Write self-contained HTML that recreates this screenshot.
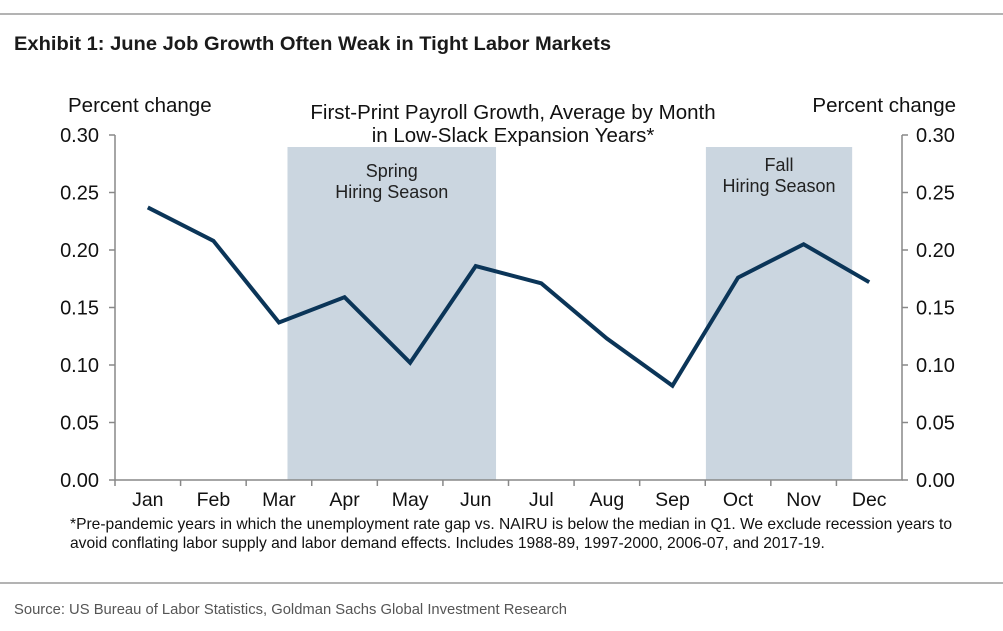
<!DOCTYPE html>
<html><head><meta charset="utf-8"><style>
body{margin:0;background:#fff;width:1003px;height:626px;overflow:hidden;font-family:"Liberation Sans",sans-serif}
</style></head><body>
<svg width="1003" height="626" font-family="Liberation Sans, sans-serif">
<line x1="0" y1="14" x2="1003" y2="14" stroke="#9a9a9a" stroke-width="1.5"/>
<text x="14" y="50" font-size="19" font-weight="bold" fill="#1a1a1a" textLength="597" lengthAdjust="spacingAndGlyphs">Exhibit 1: June Job Growth Often Weak in Tight Labor Markets</text>
<g id="plot"></g>
<text x="68" y="112" font-size="20.5" fill="#111">Percent change</text>
<text x="956" y="112" font-size="20.5" fill="#111" text-anchor="end">Percent change</text>
<text x="513" y="119" font-size="20.5" fill="#111" text-anchor="middle">First-Print Payroll Growth, Average by Month</text>
<text x="513" y="142" font-size="20.5" fill="#111" text-anchor="middle">in Low-Slack Expansion Years*</text>
<text x="70" y="529" font-size="15.6" fill="#111">*Pre-pandemic years in which the unemployment rate gap vs. NAIRU is below the median in Q1. We exclude recession years to</text>
<text x="70" y="548" font-size="15.6" fill="#111">avoid conflating labor supply and labor demand effects. Includes 1988-89, 1997-2000, 2006-07, and 2017-19.</text>
<line x1="0" y1="583" x2="1003" y2="583" stroke="#9a9a9a" stroke-width="1.5"/>
<text x="14" y="614" font-size="15" fill="#555" textLength="553" lengthAdjust="spacingAndGlyphs">Source: US Bureau of Labor Statistics, Goldman Sachs Global Investment Research</text>
</svg>
<script>
const months=["Jan","Feb","Mar","Apr","May","Jun","Jul","Aug","Sep","Oct","Nov","Dec"];
const values=[0.237,0.208,0.137,0.159,0.102,0.186,0.171,0.123,0.082,0.176,0.205,0.172];
const yTicks=["0.00","0.05","0.10","0.15","0.20","0.25","0.30"];
const yTickValues=[0,0.05,0.1,0.15,0.2,0.25,0.3];
const shadeStartIdx=[2.63,9.01];
const shadeEndIdx=[5.81,11.24];
const shadeLabels=[["Spring","Hiring Season"],["Fall","Hiring Season"]];
const L=115,R=902,T=135,B=480;
const step=(R-L)/months.length;
const x=i=>L+step*(i+0.5);
const xe=i=>L+step*i;
const y=v=>B-(v/0.3)*(B-T);
const g=document.getElementById('plot');
const NS="http://www.w3.org/2000/svg";
function mk(t,a){const e=document.createElementNS(NS,t);for(const k in a)e.setAttribute(k,a[k]);g.appendChild(e);return e;}
shadeStartIdx.forEach((s,i)=>{
  const r=mk('rect',{x:xe(s),y:147,width:xe(shadeEndIdx[i])-xe(s),height:B-147,fill:'#cbd6e0'});
  
  
  const cx=(xe(s)+xe(shadeEndIdx[i]))/2;
  shadeLabels[i].forEach((l,j)=>{
    const t=mk('text',{x:cx,y:(i?171:177)+j*21,'font-size':18,'text-anchor':'middle',fill:'#222'});
    t.textContent=l;
    
    
  });
});
const ax=mk('path',{d:`M${L} ${T}V${B}H${R}V${T}`,fill:'none',stroke:'#888','stroke-width':1.5});


yTickValues.forEach((v,i)=>{
  mk('line',{x1:L-6,x2:L,y1:y(v),y2:y(v),stroke:'#888','stroke-width':1.5});
  mk('line',{x1:R,x2:R+6,y1:y(v),y2:y(v),stroke:'#888','stroke-width':1.5});
  const a=mk('text',{x:99,y:y(v)+7,'font-size':20,'text-anchor':'end',fill:'#111'});a.textContent=yTicks[i];
  
  
  const b=mk('text',{x:916,y:y(v)+7,'font-size':20,fill:'#111'});b.textContent=yTicks[i];
  
  
});
months.forEach((m,i)=>{
  mk('line',{x1:xe(i),x2:xe(i),y1:B,y2:B+6,stroke:'#888','stroke-width':1.5});
  const t=mk('text',{x:x(i),y:506,'font-size':19.5,'text-anchor':'middle',fill:'#111'});t.textContent=m;
  
  
});
const line=mk('polyline',{points:values.map((v,i)=>x(i)+','+y(v)).join(' '),fill:'none',stroke:'#0b3558','stroke-width':4,'stroke-linejoin':'miter'});


</script>
</body></html>
